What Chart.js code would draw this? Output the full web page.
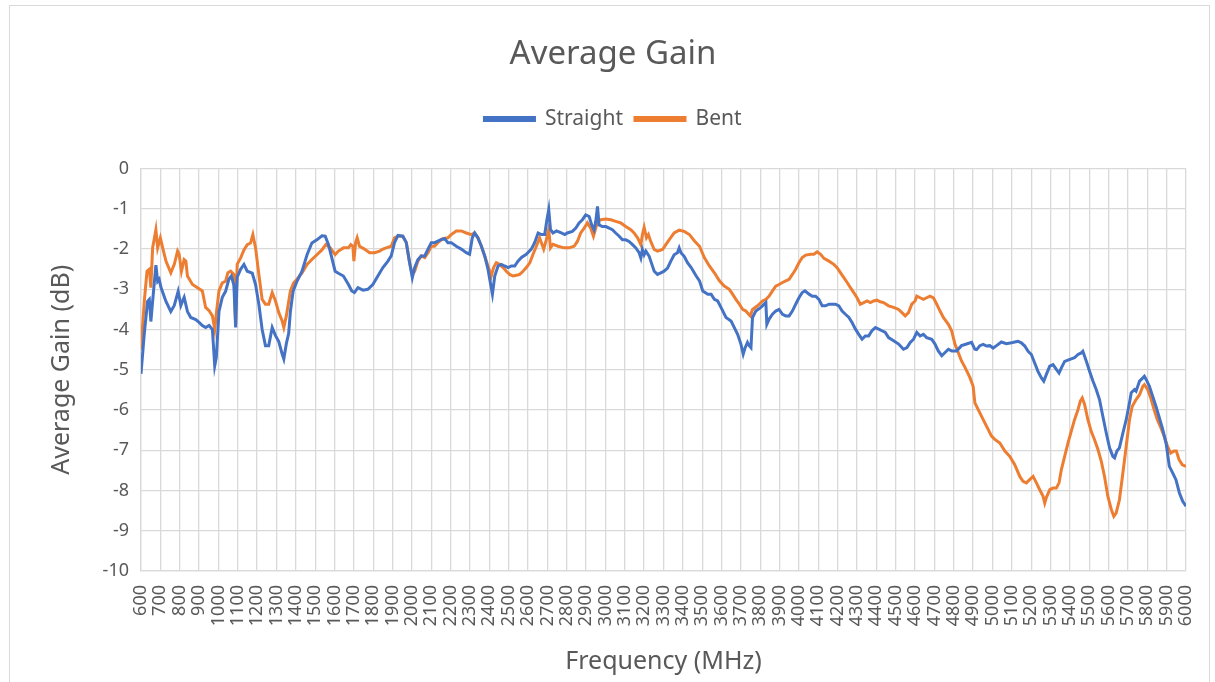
<!DOCTYPE html>
<html>
<head>
<meta charset="utf-8">
<script src="https://cdn.jsdelivr.net/npm/chart.js@4/dist/chart.umd.min.js"></script>
<style>
html,body{margin:0;padding:0;background:#fff;}
#wrap{width:1215px;height:682px;}
</style>
</head>
<body>
<div id="wrap"><canvas id="c" width="1215" height="682"></canvas></div>
<script>
const straightFreq = [600,617,634,643,651,660,677,686,694,703,729,754,772,792,806,814,823,840,857,883,900,917,934,952,969,981,989,1003,1020,1037,1054,1067,1080,1089,1097,1115,1132,1149,1175,1192,1209,1226,1243,1260,1278,1295,1312,1329,1338,1351,1363,1372,1386,1406,1432,1458,1483,1509,1535,1552,1569,1586,1603,1620,1646,1672,1689,1703,1721,1747,1772,1798,1824,1850,1876,1893,1910,1928,1953,1971,1988,2002,2014,2031,2048,2066,2083,2100,2117,2134,2152,2169,2186,2203,2229,2255,2281,2298,2312,2324,2341,2359,2376,2393,2405,2416,2428,2445,2462,2479,2497,2514,2531,2548,2566,2591,2617,2634,2652,2669,2686,2698,2707,2716,2729,2747,2772,2790,2803,2829,2847,2864,2881,2898,2916,2929,2941,2950,2959,2967,2984,3002,3019,3036,3053,3071,3088,3105,3122,3140,3157,3174,3183,3191,3200,3209,3226,3240,3252,3269,3286,3303,3321,3338,3355,3372,3381,3390,3407,3424,3443,3469,3486,3503,3529,3546,3563,3580,3597,3623,3649,3666,3683,3700,3712,3722,3734,3743,3752,3760,3777,3803,3820,3829,3834,3846,3863,3880,3897,3915,3932,3949,3966,3983,4000,4017,4031,4052,4069,4086,4103,4120,4137,4155,4172,4189,4206,4223,4240,4258,4275,4292,4309,4326,4343,4360,4377,4395,4412,4429,4446,4463,4489,4515,4540,4558,4575,4592,4609,4626,4643,4660,4686,4703,4720,4738,4755,4772,4789,4815,4840,4866,4892,4909,4918,4935,4952,4969,4986,5003,5021,5046,5072,5098,5115,5132,5149,5167,5184,5201,5218,5235,5253,5265,5278,5296,5313,5330,5344,5356,5373,5390,5407,5424,5442,5459,5467,5485,5502,5519,5536,5553,5570,5588,5605,5622,5631,5643,5656,5674,5691,5708,5717,5734,5742,5760,5777,5785,5794,5811,5828,5845,5863,5880,5897,5914,5931,5948,5966,5983,6000];
const straightGain = [-5.1,-4.1,-3.3,-3.25,-3.8,-3.3,-2.4,-2.8,-2.75,-2.95,-3.3,-3.55,-3.4,-3.05,-3.4,-3.3,-3.2,-3.55,-3.7,-3.75,-3.82,-3.9,-3.95,-3.9,-4.0,-4.9,-4.7,-3.55,-3.2,-3.05,-2.75,-2.67,-2.9,-3.95,-2.7,-2.5,-2.38,-2.55,-2.6,-2.88,-3.37,-4.0,-4.4,-4.4,-3.95,-4.15,-4.3,-4.6,-4.73,-4.35,-4.1,-3.55,-3.05,-2.8,-2.55,-2.14,-1.85,-1.77,-1.67,-1.68,-1.89,-2.22,-2.55,-2.6,-2.67,-2.88,-3.04,-3.08,-2.96,-3.02,-3.0,-2.88,-2.67,-2.46,-2.3,-2.17,-1.84,-1.66,-1.68,-1.84,-2.34,-2.71,-2.46,-2.26,-2.17,-2.17,-2.0,-1.84,-1.84,-1.8,-1.76,-1.74,-1.84,-1.84,-1.93,-2.0,-2.09,-2.13,-1.72,-1.6,-1.72,-1.93,-2.17,-2.5,-2.83,-3.12,-2.67,-2.42,-2.38,-2.42,-2.46,-2.42,-2.42,-2.3,-2.21,-2.13,-2.0,-1.84,-1.6,-1.64,-1.64,-1.26,-1.02,-1.51,-1.6,-1.55,-1.6,-1.64,-1.6,-1.56,-1.48,-1.35,-1.27,-1.15,-1.19,-1.4,-1.52,-1.31,-0.94,-1.4,-1.44,-1.44,-1.48,-1.52,-1.6,-1.68,-1.77,-1.77,-1.81,-1.89,-1.97,-2.09,-2.22,-2.01,-2.14,-2.05,-2.18,-2.38,-2.55,-2.63,-2.59,-2.55,-2.47,-2.3,-2.14,-2.09,-1.97,-2.09,-2.18,-2.34,-2.46,-2.67,-2.79,-3.04,-3.12,-3.12,-3.25,-3.29,-3.45,-3.7,-3.79,-3.95,-4.12,-4.36,-4.61,-4.45,-4.32,-4.4,-4.45,-3.7,-3.54,-3.45,-3.37,-3.33,-3.87,-3.74,-3.62,-3.54,-3.5,-3.62,-3.66,-3.66,-3.54,-3.37,-3.21,-3.08,-3.04,-3.12,-3.17,-3.17,-3.25,-3.41,-3.41,-3.37,-3.37,-3.37,-3.41,-3.54,-3.62,-3.7,-3.83,-3.99,-4.12,-4.24,-4.16,-4.16,-4.03,-3.95,-3.99,-4.03,-4.07,-4.2,-4.28,-4.36,-4.49,-4.45,-4.32,-4.24,-4.07,-4.16,-4.12,-4.2,-4.24,-4.36,-4.53,-4.65,-4.57,-4.49,-4.53,-4.53,-4.4,-4.36,-4.32,-4.49,-4.5,-4.4,-4.37,-4.41,-4.4,-4.46,-4.4,-4.31,-4.35,-4.33,-4.31,-4.29,-4.33,-4.41,-4.54,-4.62,-4.83,-5.04,-5.2,-5.28,-5.12,-4.91,-4.87,-4.99,-5.08,-4.95,-4.79,-4.76,-4.73,-4.7,-4.62,-4.58,-4.54,-4.79,-5.04,-5.28,-5.49,-5.74,-6.15,-6.57,-6.94,-7.15,-7.19,-7.02,-6.94,-6.57,-6.24,-5.82,-5.57,-5.49,-5.53,-5.28,-5.2,-5.16,-5.24,-5.41,-5.66,-5.91,-6.2,-6.49,-6.82,-7.4,-7.56,-7.73,-8.06,-8.27,-8.39];
const bentFreq = [600,617,631,643,651,660,677,686,700,712,729,754,772,789,797,809,823,832,840,866,892,917,934,952,969,981,991,1003,1020,1037,1049,1063,1080,1089,1097,1115,1132,1149,1166,1178,1192,1209,1226,1243,1260,1278,1295,1312,1329,1338,1351,1372,1389,1406,1432,1458,1483,1509,1535,1555,1578,1603,1620,1646,1672,1684,1695,1700,1709,1717,1729,1755,1781,1807,1833,1850,1867,1893,1910,1928,1953,1971,1988,2002,2014,2031,2048,2066,2083,2100,2117,2134,2160,2186,2203,2229,2255,2281,2307,2324,2341,2359,2376,2393,2410,2422,2436,2453,2471,2488,2505,2522,2540,2557,2574,2591,2609,2626,2643,2660,2669,2681,2695,2707,2716,2729,2755,2786,2812,2838,2855,2872,2890,2907,2924,2938,2950,2959,2976,3002,3028,3053,3079,3105,3131,3148,3166,3183,3191,3200,3212,3222,3234,3252,3269,3295,3312,3329,3355,3381,3407,3434,3460,3486,3511,3537,3563,3589,3614,3640,3657,3674,3692,3709,3726,3740,3748,3760,3786,3812,3829,3846,3863,3880,3897,3915,3932,3949,3966,3983,4000,4017,4035,4060,4077,4094,4112,4129,4155,4180,4197,4215,4232,4249,4266,4283,4300,4317,4335,4352,4369,4386,4403,4420,4437,4463,4489,4515,4532,4549,4566,4583,4600,4609,4626,4643,4660,4677,4695,4712,4729,4746,4772,4789,4806,4823,4840,4858,4883,4900,4909,4943,4969,4995,5012,5038,5064,5089,5115,5141,5158,5175,5192,5210,5227,5244,5261,5270,5278,5296,5313,5330,5344,5356,5373,5390,5407,5424,5442,5454,5464,5476,5493,5510,5527,5545,5562,5579,5596,5614,5627,5639,5656,5674,5691,5708,5722,5742,5760,5777,5785,5802,5818,5835,5852,5870,5887,5904,5921,5938,5950,5964,5981,6000];
const bentGain = [-4.5,-3.3,-2.55,-2.5,-2.96,-1.97,-1.52,-1.97,-1.72,-1.97,-2.3,-2.59,-2.38,-2.05,-2.13,-2.55,-2.26,-2.3,-2.67,-2.88,-2.96,-3.04,-3.45,-3.53,-3.66,-3.99,-3.53,-3.04,-2.84,-2.8,-2.59,-2.55,-2.63,-3.86,-2.38,-2.22,-2.02,-1.89,-1.85,-1.64,-1.97,-2.63,-3.25,-3.37,-3.37,-3.08,-3.29,-3.58,-3.78,-3.95,-3.66,-3.04,-2.84,-2.75,-2.59,-2.38,-2.26,-2.14,-2.02,-1.89,-1.97,-2.14,-2.05,-1.97,-1.97,-1.89,-1.93,-2.3,-1.84,-1.72,-1.93,-2.0,-2.09,-2.09,-2.05,-2.0,-1.97,-1.93,-1.72,-1.68,-1.68,-1.84,-2.34,-2.63,-2.55,-2.3,-2.17,-2.21,-2.09,-1.93,-1.93,-1.84,-1.74,-1.72,-1.64,-1.55,-1.55,-1.6,-1.64,-1.6,-1.72,-1.93,-2.17,-2.42,-2.67,-2.46,-2.34,-2.38,-2.46,-2.55,-2.63,-2.67,-2.65,-2.63,-2.55,-2.46,-2.34,-2.13,-1.93,-1.72,-1.84,-2.0,-1.76,-1.51,-1.97,-1.88,-1.93,-1.97,-1.97,-1.93,-1.81,-1.6,-1.48,-1.35,-1.48,-1.68,-1.48,-1.31,-1.27,-1.25,-1.27,-1.31,-1.35,-1.44,-1.52,-1.6,-1.72,-1.89,-1.64,-1.46,-1.72,-1.64,-1.81,-2.01,-2.05,-2.01,-1.89,-1.77,-1.6,-1.53,-1.56,-1.64,-1.8,-1.93,-2.21,-2.42,-2.59,-2.79,-2.92,-3.0,-3.12,-3.25,-3.37,-3.5,-3.54,-3.62,-3.66,-3.5,-3.41,-3.29,-3.25,-3.17,-3.04,-2.92,-2.88,-2.83,-2.79,-2.75,-2.63,-2.5,-2.34,-2.21,-2.15,-2.13,-2.13,-2.07,-2.13,-2.23,-2.3,-2.38,-2.46,-2.59,-2.71,-2.83,-2.96,-3.08,-3.21,-3.37,-3.33,-3.29,-3.33,-3.29,-3.27,-3.31,-3.33,-3.41,-3.45,-3.5,-3.58,-3.66,-3.58,-3.37,-3.29,-3.17,-3.21,-3.25,-3.21,-3.17,-3.21,-3.37,-3.54,-3.7,-3.87,-4.03,-4.36,-4.57,-4.78,-4.94,-5.19,-5.41,-5.82,-6.15,-6.4,-6.65,-6.73,-6.82,-7.02,-7.15,-7.36,-7.65,-7.77,-7.81,-7.73,-7.65,-7.81,-7.98,-8.14,-8.31,-8.18,-7.98,-7.94,-7.94,-7.81,-7.48,-7.15,-6.82,-6.53,-6.24,-5.99,-5.78,-5.7,-5.86,-6.24,-6.53,-6.73,-6.98,-7.27,-7.65,-8.14,-8.47,-8.64,-8.56,-8.23,-7.56,-6.9,-6.24,-5.91,-5.74,-5.62,-5.41,-5.37,-5.49,-5.7,-5.99,-6.24,-6.44,-6.65,-6.9,-7.07,-7.02,-7.02,-7.23,-7.36,-7.4];
const xMin = 600, xMax = 6000, xStep = 100;
const yMin = -10, yMax = 0, yStep = 1;

const FONT = "'Noto Sans', 'DejaVu Sans', sans-serif";
const TXT = '#595959';
const GRID = '#d9d9d9';

const toPoints = (xs, ys) => xs.map((x, i) => ({x: x, y: ys[i]}));

const frame = {
  id: 'frame',
  beforeDraw(chart) {
    const c = chart.ctx;
    c.save();
    c.fillStyle = '#fff';
    c.fillRect(0, 0, chart.width, chart.height);
    c.strokeStyle = '#d9d9d9';
    c.lineWidth = 1;
    c.strokeRect(9.5, 5.5, 1200, 690);
    c.restore();
  }
};

new Chart(document.getElementById('c'), {
  type: 'line',
  data: {
    datasets: [
      {label: 'Straight', data: toPoints(straightFreq, straightGain), borderColor: '#4472C4', backgroundColor: '#4472C4', borderWidth: 3, pointRadius: 0, tension: 0},
      {label: 'Bent', data: toPoints(bentFreq, bentGain), borderColor: '#ED7D31', backgroundColor: '#ED7D31', borderWidth: 3, pointRadius: 0, tension: 0}
    ]
  },
  plugins: [frame],
  options: {
    responsive: false,
    animation: false,
    layout: {padding: {left: 40, right: 29, top: 0, bottom: 0}},
    plugins: {
      title: {display: true, text: 'Average Gain', color: TXT, font: {family: FONT, size: 33, weight: 'normal'}, padding: {top: 35, bottom: 22}},
      subtitle: {display: true, text: ' ', weight: 500, font: {size: 10}, padding: {top: 0, bottom: 17}},
      legend: {position: 'top', labels: {color: TXT, font: {family: FONT, size: 21}, boxWidth: 50, boxHeight: 3, padding: 12}},
      tooltip: {enabled: false}
    },
    scales: {
      x: {
        type: 'linear', min: xMin, max: xMax,
        afterFit(s) { s.height = 111; s.paddingRight = 0; s.paddingLeft = 0; },
        ticks: {stepSize: xStep, autoSkip: false, maxTicksLimit: 1000, minRotation: 90, maxRotation: 90, padding: 14, color: TXT, font: {family: FONT, size: 18}, callback: v => String(v)},
        grid: {color: GRID, lineWidth: 1.3, drawTicks: false},
        border: {color: GRID, width: 1.3},
        title: {display: true, text: 'Frequency (MHz)', color: TXT, font: {family: FONT, size: 25}, padding: {top: 0, bottom: 5}}
      },
      y: {
        min: yMin, max: yMax,
        afterFit(s) { s.width = 101; },
        ticks: {stepSize: yStep, padding: 12, color: TXT, font: {family: FONT, size: 18}},
        grid: {color: GRID, lineWidth: 1.3, drawTicks: false},
        border: {color: GRID, width: 1.3},
        title: {display: true, text: 'Average Gain (dB)', color: TXT, font: {family: FONT, size: 25}, padding: {top: 7, bottom: 0}}
      }
    }
  }
});
</script>
</body>
</html>
